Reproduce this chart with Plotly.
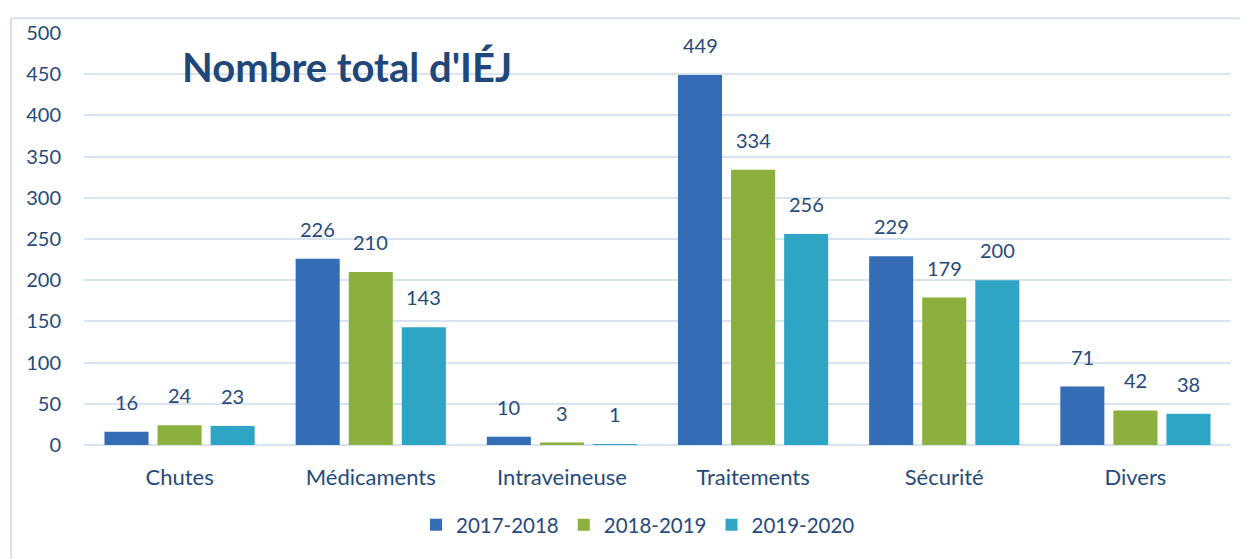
import plotly.graph_objects as go

categories = ["Chutes", "Médicaments", "Intraveineuse", "Traitements", "Sécurité", "Divers"]
series_names = ["2017-2018", "2018-2019", "2019-2020"]
v_2017_2018 = [16, 226, 10, 449, 229, 71]
v_2018_2019 = [24, 210, 3, 334, 179, 42]
v_2019_2020 = [23, 143, 1, 256, 200, 38]
title_text = "Nombre total d'IÉJ"

series_values = [v_2017_2018, v_2018_2019, v_2019_2020]
colors = ["#346DB6", "#8BB03D", "#2FA5C5"]
text_color = "#264A7C"
font_family = "Lato, 'Noto Sans', sans-serif"

fig = go.Figure()
for name, vals, col in zip(series_names, series_values, colors):
    fig.add_trace(go.Bar(x=categories, y=vals, name=name, marker=dict(color=col, line=dict(width=0))))

# value labels above bars
shifts = [-53, 0, 53]
annotations = []
for vals, sh in zip(series_values, shifts):
    for c, v in zip(categories, vals):
        annotations.append(dict(x=c, y=v, xref="x", yref="y", text=str(v), showarrow=False,
                                xshift=sh, yshift=30, yanchor="middle",
                                font=dict(size=20, color=text_color, family=font_family)))
annotations.append(dict(x=0.0837, y=0.918, xref="paper", yref="paper", text="<b>" + title_text + "</b>",
                        showarrow=False, xanchor="left", yanchor="middle",
                        font=dict(size=40, color="#1F477A", family=font_family)))

fig.update_layout(
    width=1240, height=551,
    margin=dict(l=76, r=17, t=20, b=114),
    paper_bgcolor="white", plot_bgcolor="white",
    barmode="group", bargap=0.167, bargroupgap=0.17,
    font=dict(family=font_family, size=20, color=text_color),
    showlegend=True,
    legend=dict(orientation="h", x=0.483, xanchor="center", y=-0.194, yanchor="middle",
                font=dict(size=20.5, color=text_color), itemwidth=30, traceorder="normal"),
    annotations=annotations,
    shapes=[dict(type="rect", xref="paper", yref="paper", x0=-0.0636, y0=-0.3, x1=1.03, y1=1.036,
                 line=dict(color="#D6E2F2", width=2), fillcolor="rgba(0,0,0,0)", layer="below")],
)
fig.update_xaxes(showgrid=False, showline=False, ticks="", tickfont=dict(size=22, color=text_color), ticklabelstandoff=17)
fig.update_yaxes(range=[0, 500], dtick=50, showgrid=True, gridcolor="#D9E4F2", gridwidth=2,
                 zeroline=True, zerolinecolor="#D9E4F2", zerolinewidth=2, showline=False,
                 tickfont=dict(size=20, color=text_color), ticklabelstandoff=22)

fig.write_html("out.html")
